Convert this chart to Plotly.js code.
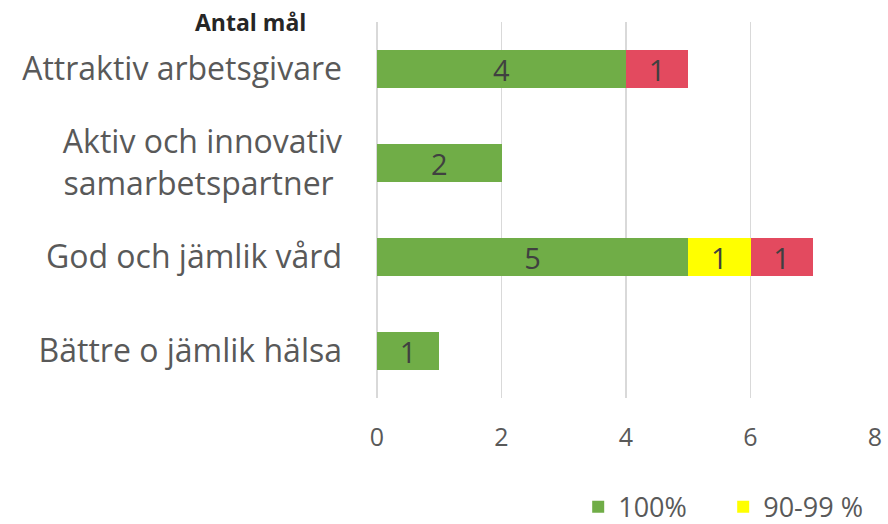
<!DOCTYPE html>
<html><head><meta charset="utf-8">
<script src="https://cdn.plot.ly/plotly-3.0.1.min.js"></script>
<style>html,body{margin:0;padding:0;background:#fff}#chart{width:888px;height:524px}</style>
</head><body><div id="chart"></div>
<script>
const categories = ["Attraktiv arbetsgivare", "Aktiv och innovativ<br>samarbetspartner ", "God och jämlik vård", "Bättre o jämlik hälsa"];
const full = [4, 2, 5, 1];
const partial = [null, null, 1, null];
const missed = [1, null, 1, null];
const seriesNames = ["100%", "90-99 %", "<90 %"];
const colors = ["#70AD47", "#FFFF00", "#E34A5F"];
const seriesData = [full, partial, missed];
const tickVals = [0, 2, 4, 6, 8];

const traces = seriesData.map((vals, i) => ({
  type: 'bar', orientation: 'h', name: seriesNames[i],
  y: categories, x: vals,
  marker: {color: colors[i]},
  text: vals.map(v => v == null ? '' : String(v)),
  textposition: 'inside', insidetextanchor: 'middle', textangle: 0,
  constraintext: 'none',
  textfont: {family: 'Open Sans, sans-serif', size: 29, color: '#404040'},
  showlegend: i < 2, hoverinfo: 'none'
}));

const layout = {
  width: 888, height: 524,
  margin: {l: 377, r: 13, t: 22, b: 126, autoexpand: false},
  barmode: 'stack', bargap: 0.6,
  paper_bgcolor: '#fff', plot_bgcolor: '#fff',
  font: {family: 'Open Sans, sans-serif', color: '#595959'},
  xaxis: {range: [0, 8], tickvals: tickVals, showgrid: true, gridcolor: '#D9D9D9', gridwidth: 1.5,
          zeroline: true, zerolinecolor: '#D9D9D9', zerolinewidth: 1.5, showline: false, automargin: false,
          ticks: '', ticklabelstandoff: 22, tickfont: {size: 25, color: '#595959'}, fixedrange: true},
  yaxis: {autorange: 'reversed', type: 'category', ticks: '', showline: false, showgrid: false, automargin: false,
          ticklabelstandoff: 34, tickfont: {size: 32, color: '#595959'}, fixedrange: true},
  legend: {orientation: 'h', x: 0.404, xanchor: 'left', yref: 'container', y: 0.032, yanchor: 'middle',
           font: {size: 27, color: '#595959'}, itemwidth: 30, entrywidth: 100, entrywidthmode: 'pixels',
           traceorder: 'normal'},
  annotations: [{text: '<b>Antal mål</b>', xref: 'paper', yref: 'paper', x: -0.255, y: 1.0,
                 xanchor: 'center', yanchor: 'middle', showarrow: false,
                 font: {size: 23, color: '#262626'}}]
};
Plotly.newPlot('chart', traces, layout, {displayModeBar: false, staticPlot: true});
</script></body></html>
